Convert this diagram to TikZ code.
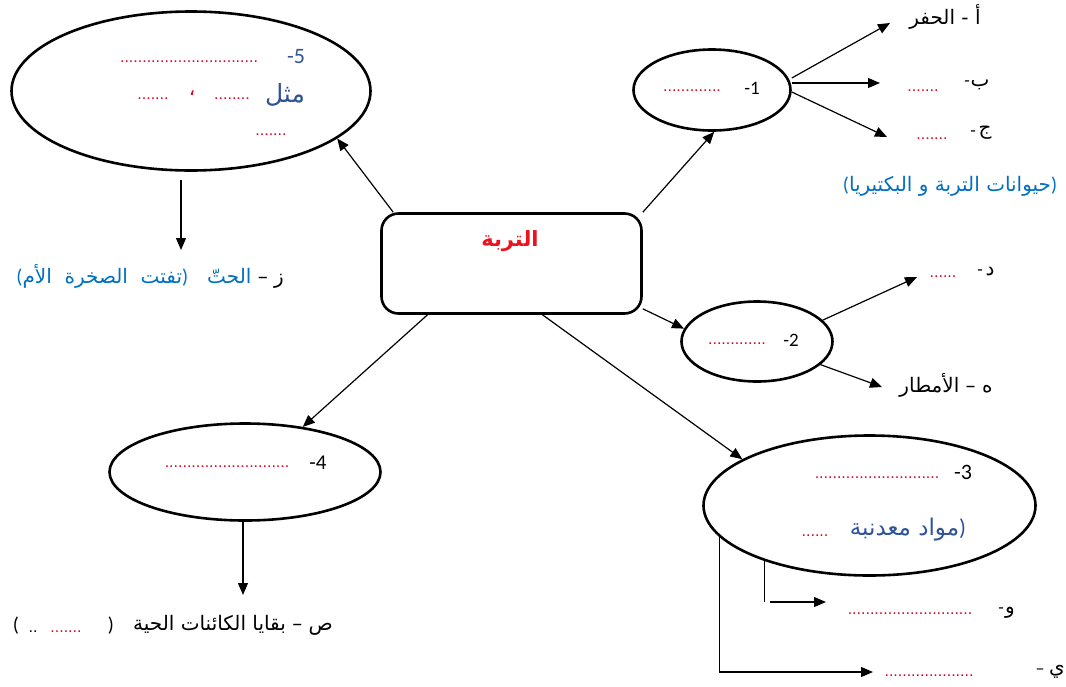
\documentclass[tikz,border=0pt]{standalone}
\usepackage{fontspec}
\setmainfont{Carlito}
\newfontfamily\ar[Script=Arabic]{DejaVu Sans}
\newfontfamily\dotf{Liberation Sans}
\usetikzlibrary{shapes.geometric,arrows.meta}
\TeXXeTstate=1
\definecolor{dotred}{RGB}{225,0,35}
\definecolor{dkblue}{RGB}{47,84,150}
\definecolor{ltblue}{RGB}{0,112,192}
\definecolor{titlered}{RGB}{235,20,30}
\newcommand\lp{{\rmfamily(}}
\newcommand\rp{{\rmfamily)}}
\tikzset{
  ell/.style={ellipse, draw, line width=2.6pt, inner sep=0pt},
  arr/.style={-{Triangle[length=12pt,width=10pt]}, line width=1.2pt},
  dt/.style={text=dotred, font=\dotf\fontsize{16}{16}\selectfont, inner sep=0pt},
  num/.style={font=\fontsize{19}{20}\selectfont, inner sep=0pt},
  hy/.style={font=\fontsize{18}{20}\selectfont, inner sep=0pt},
  lab/.style={font=\ar\fontsize{20}{24}\selectfont, inner sep=0pt},
}
\begin{document}
\begin{tikzpicture}[x=1pt,y=-1pt]
\useasboundingbox (0,0) rectangle (1066,686);

% central box
\node[draw, rounded corners=17pt, line width=2.6pt, minimum width=260pt, minimum height=100pt, inner sep=0pt] (c) at (511.5,263.5) {};
\node[font=\ar\bfseries\fontsize{21}{24}\selectfont, text=titlered, inner sep=0pt] (t) at (510,241) {التربة};

% ellipses
\node[ell, minimum width=359pt, minimum height=159pt] (e5) at (191,91) {};
\node[ell, minimum width=157pt, minimum height=81pt] (e1) at (712,90) {};
\node[ell, minimum width=151pt, minimum height=80pt] (e2) at (757,341.5) {};
\node[ell, minimum width=332pt, minimum height=140pt] (e3) at (869.5,505.5) {};
\node[ell, minimum width=271pt, minimum height=97pt] (e4) at (245,472) {};

% ellipse 5 content
\node[num, text=dkblue, font=\fontsize{22}{24}\selectfont] (n5) at (296,57) {-5};
\node[dt] (d5a) at (189,62) {...............................};
\node[lab, text=dkblue, font=\ar\fontsize{25}{28}\selectfont] (m5) at (285,95) {مثل};
\node[dt] (d5b) at (232,99) {........};
\node[lab, text=dotred] (cm5) at (192,93) {،};
\node[dt] (d5c) at (153,99) {.......};
\node[dt] (d5d) at (271,135) {.......};

% ellipse 1 content
\node[num] (n1) at (752,88) {-1};
\node[dt] (d1) at (692,91) {.............};
\node[lab] (ta) at (945,17) {\beginR أ - الحفر\endR};
\node[hy] (tbh) at (967,84) {-};
\node[lab] (tb) at (980,85) {ب};
\node[dt] (db) at (923,91) {.......};
\node[hy] (tch) at (973,134) {-};
\node[lab] (tc) at (985,133) {ج};
\node[dt] (dc) at (932,139) {.......};
\node[lab, text=ltblue] (hb) at (950,186) {\lp\beginR حيوانات التربة و البكتيريا\endR\rp};

% ellipse 2 content
\node[num] (n2) at (791,340) {-2};
\node[dt] (d2) at (737,344) {.............};
\node[hy] (tdh) at (980,273) {-};
\node[lab] (td) at (990,272) {د};
\node[dt] (dd) at (943,277) {......};
\node[lab] (te) at (946,385) {\beginR ه – الأمطار\endR};

% ellipse 3 content
\node[num, font=\fontsize{22}{24}\selectfont] (n3) at (963,472) {-3};
\node[dt] (d3) at (877,478) {............................};
\node[lab, text=dkblue, font=\ar\fontsize{23}{26}\selectfont] (m3) at (908,530) {\beginR مواد معدنبة\endR\rp};
\node[dt] (d3b) at (815,536) {......};
\node[hy] (twh) at (1001,611) {-};
\node[lab] (tw) at (1010,613) {و};
\node[dt] (dw) at (910,614) {............................};
\node[hy] (tyh) at (1040,672) {–};
\node[lab] (ty) at (1057,672) {ي};
\node[dt] (dy) at (929,676) {....................};

% ellipse 4 content
\node[num, font=\fontsize{21}{23}\selectfont] (n4) at (318,463) {-4};
\node[dt] (d4) at (227,467) {............................};

% bottom-left line
\node[lab] (pz1) at (16,626) {\lp};
\node[dt, text=black] (pz2) at (33,632) {..};
\node[dt] (pz3) at (66,632) {.......};
\node[lab] (pz4) at (111,626) {\rp};
\node[lab, anchor=east] (tp) at (333,625) {\beginR ص – بقايا الكائنات الحية\endR};

% left line under ellipse 5
\node[lab, anchor=east, text=ltblue] (tz) at (284,276) {\lp\beginR تفتت\ \ الصخرة\ \ الأم\endR\rp\ \ \ الحتّ\ \textcolor{black}{–\ ز}};

% free ends
\coordinate (zt) at (181,250);
\coordinate (pt) at (243,595);
\coordinate (aa) at (890,23);
\coordinate (ab) at (880,83);
\coordinate (ac) at (887,137);
\coordinate (ad) at (917,277);
\coordinate (ae) at (882,387);
\coordinate (wt) at (826,602);
\coordinate (yt) at (873,672);

% connectors from central box
\draw[arr] ([xshift=13pt]c.north west) -- (e5.-18);
\draw[arr] (c.north east) -- (e1.-87);
\draw[arr] ([yshift=6pt]c.south east) -- (e2.170);
\draw[arr] ([xshift=31pt]c.south) -- (e3.160);
\draw[arr] ([xshift=-84pt]c.south) -- (e4.38);

% other connectors
\draw[arr] ([yshift=-8pt]e5.south -| zt) -- (zt);
\draw[arr] (e4.south -| pt) -- (pt);
\draw[arr] ([yshift=12pt]e1.east) -- (aa);
\draw[arr] ([yshift=7pt]e1.east) -- (ab);
\draw[arr] ([yshift=-2pt]e1.east) -- (ac);
\draw[arr] (e2.18) -- (ad);
\draw[arr] (e2.-20) -- (ae);
\path (e3.208 |- wt) coordinate (wc);
\draw[line width=1.2pt] (e3.208) -- (wc);
\draw[arr] ([xshift=5pt]wc) -- (wt);
\draw[arr] (e3.192) |- (yt);
\end{tikzpicture}
\end{document}
